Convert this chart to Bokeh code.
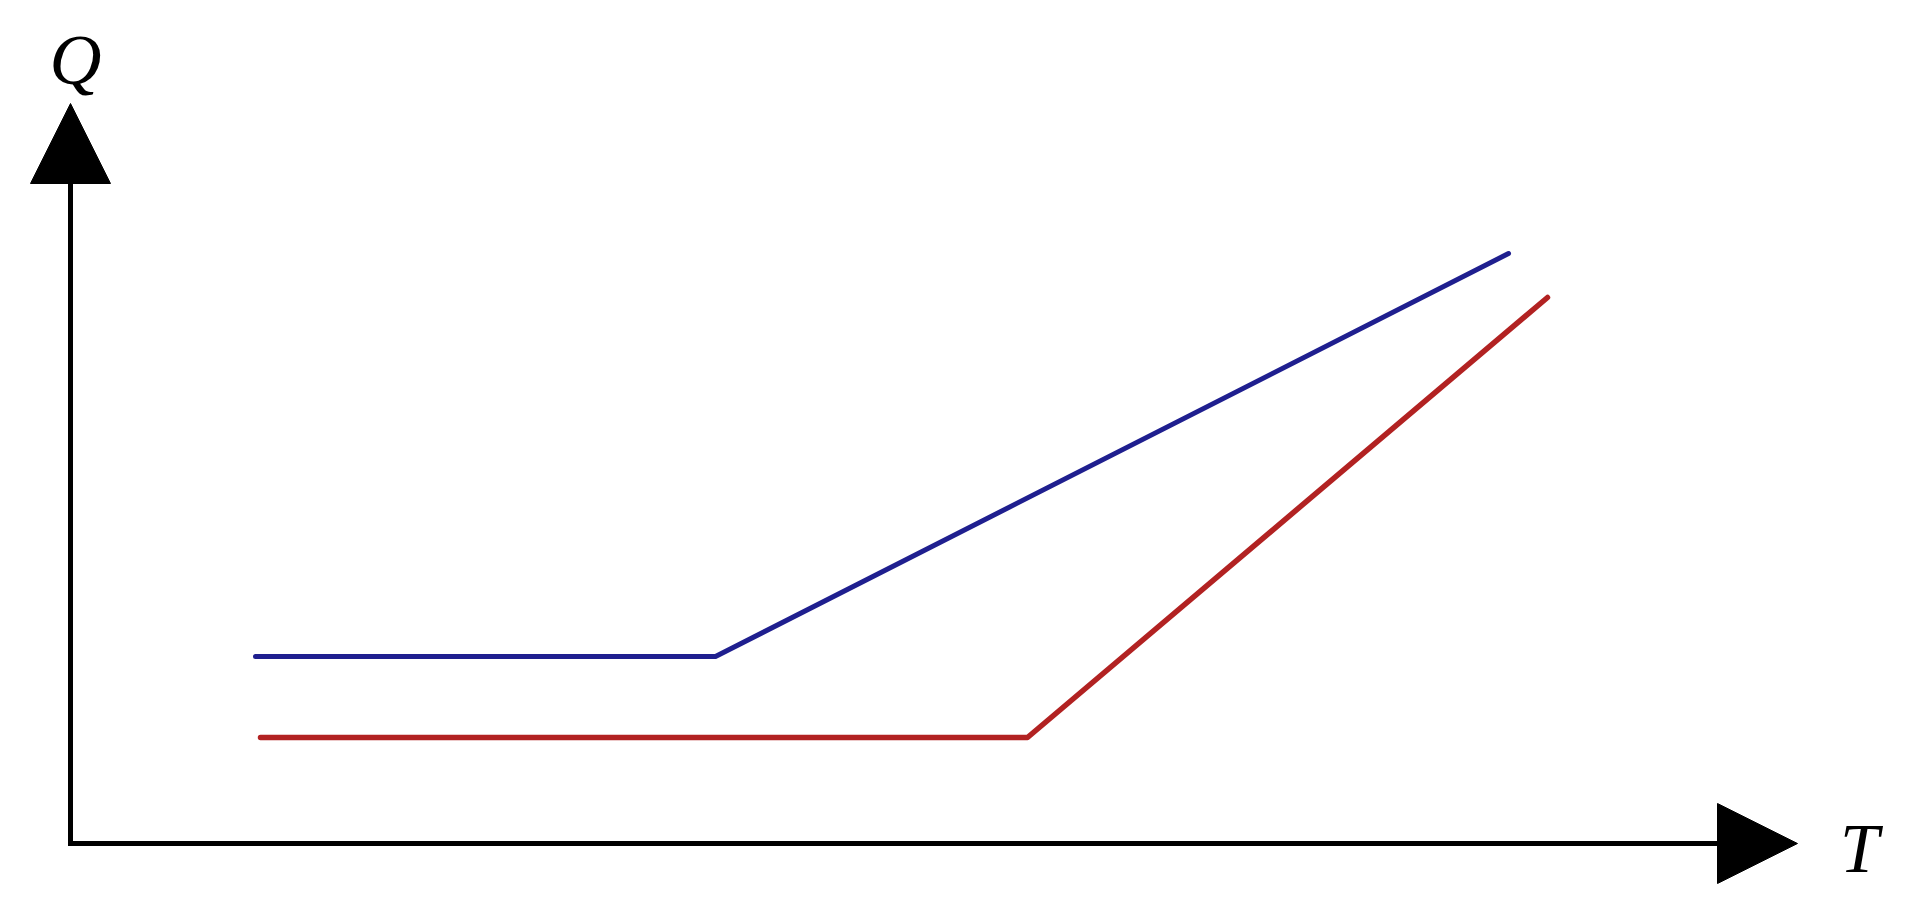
from bokeh.plotting import figure
from bokeh.models import Range1d, Arrow, NormalHead
from bokeh.core.properties import value
from bokeh.embed import file_html
from bokeh.resources import INLINE

# Data (arbitrary units: T horizontal, Q vertical)
blue_T = [1.85, 6.45, 14.38]
blue_Q = [1.87, 1.87, 5.90]
red_T = [1.90, 9.57, 14.77]
red_Q = [1.06, 1.06, 5.46]

# Axis extents (arrow tips) and axis titles
t_axis_end = 17.27
q_axis_end = 7.40
x_title = "T"
y_title = "Q"

W, H = 1896, 901
p = figure(width=W, height=H, output_backend="svg", toolbar_location=None,
           x_axis_location=None, y_axis_location=None,
           x_range=Range1d(-0.70, -0.70 + W / 100.0),
           y_range=Range1d(8.43 - H / 100.0, 8.43),
           min_border=0, min_border_left=0, min_border_right=0,
           min_border_top=0, min_border_bottom=0)
p.outline_line_color = None
p.grid.visible = False
p.background_fill_color = "white"
p.border_fill_color = "white"

# Axes as an L-shaped path
p.line([0, 0, t_axis_end - 0.8], [q_axis_end - 0.8, 0, 0],
       line_color="black", line_width=5, line_join="miter")

head_y = NormalHead(size=80, fill_color="black", line_color="black", line_width=1)
head_x = NormalHead(size=80, fill_color="black", line_color="black", line_width=1)
p.add_layout(Arrow(end=head_y, x_start=0, y_start=0, x_end=0, y_end=q_axis_end,
                   line_color="black", line_width=5))
p.add_layout(Arrow(end=head_x, x_start=0, y_start=0, x_end=t_axis_end, y_end=0,
                   line_color="black", line_width=5))

# Series
p.line(blue_T, blue_Q, line_color="#1f1f8f", line_width=5, line_join="round", line_cap="round")
p.line(red_T, red_Q, line_color="#b22222", line_width=5.5, line_join="round", line_cap="round")

# Axis titles
p.text(x=[0.05], y=[7.84], text=[y_title], text_font=value("Liberation Serif"),
       text_font_style="italic", text_font_size="72px", text_align="center",
       text_baseline="alphabetic", text_color="black")
p.text(x=[17.89], y=[-0.05], text=[x_title], text_font=value("Liberation Serif"),
       text_font_style="italic", text_font_size="70px", text_align="center",
       text_baseline="alphabetic", text_color="black")

open("out.html", "w").write(file_html(p, INLINE))
